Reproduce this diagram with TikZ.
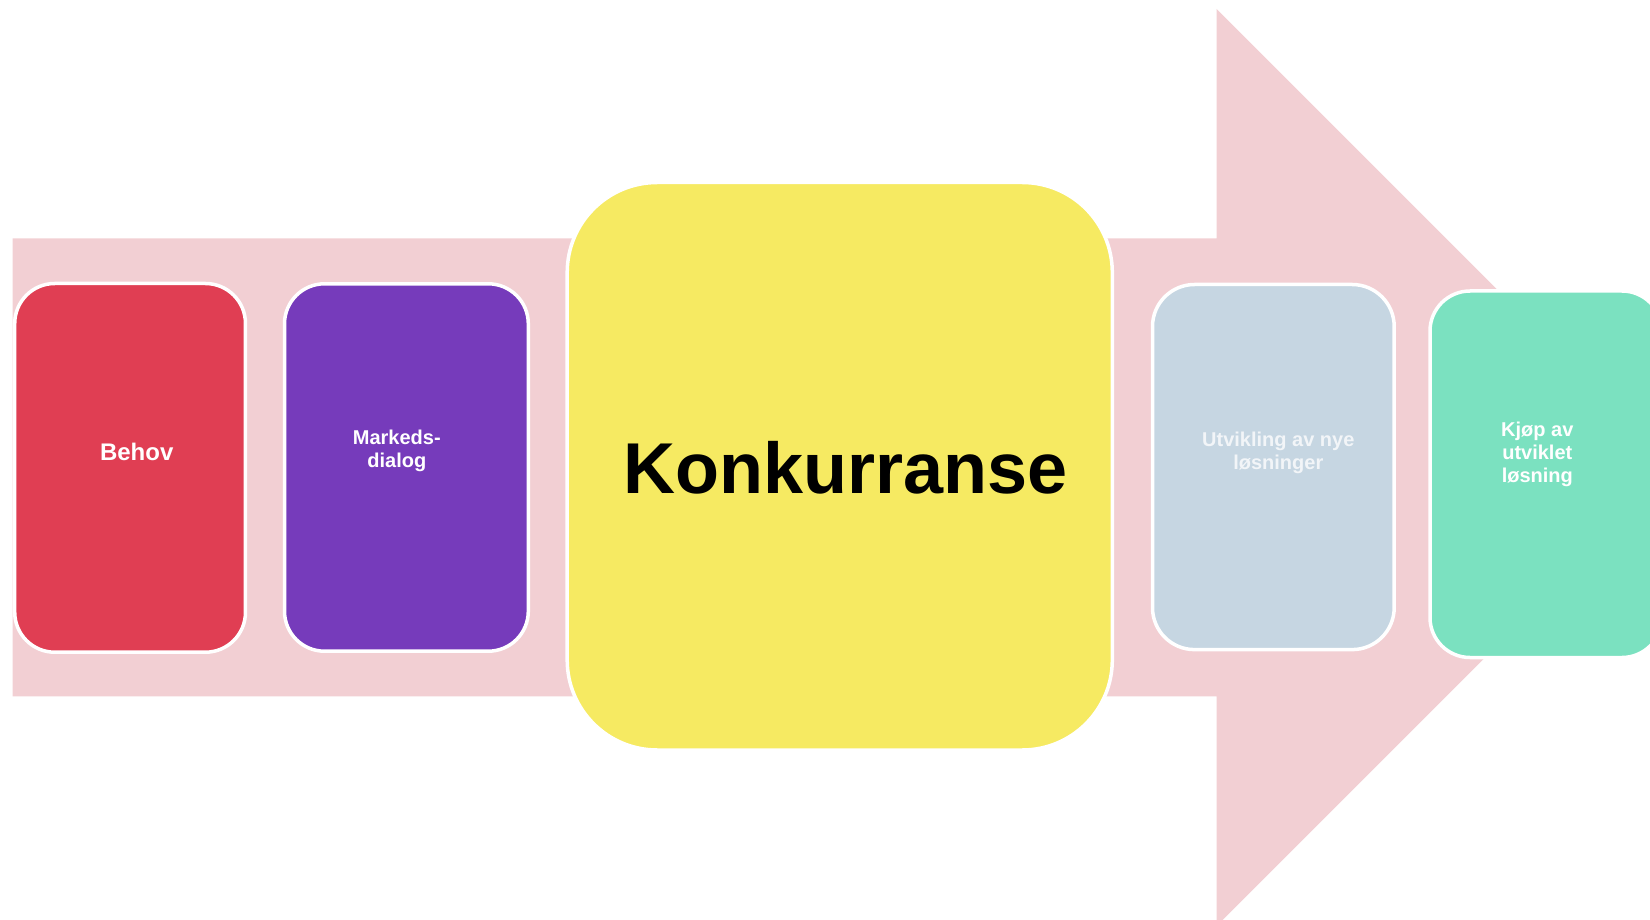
\documentclass[tikz,border=0pt]{standalone}
\usepackage{fontspec}
\setmainfont{Liberation Sans}
\definecolor{arrowpink}{HTML}{F2CFD3}
\definecolor{boxred}{HTML}{E03E53}
\definecolor{boxpurple}{HTML}{763BBB}
\definecolor{boxyellow}{HTML}{F6EA62}
\definecolor{boxblue}{HTML}{C6D6E2}
\definecolor{boxgreen}{HTML}{7BE1C0}
\definecolor{bluetext}{HTML}{F2F5F8}
\begin{document}
\begin{tikzpicture}[x=1pt,y=-1pt,
  card/.style={draw=white, line width=3.5pt, inner sep=0pt, outer sep=0pt},
  lbl/.style={text=white, font=\bfseries\fontsize{20}{23}\selectfont, anchor=base, inner sep=0pt}]
\useasboundingbox (0,0) rectangle (1650,920);
\clip (0,0) rectangle (1650,920);
% big arrow
\fill[arrowpink] (12.7,238.3) -- (1216.7,238.3) -- (1216.7,9) -- (1675.2,467.5)
  -- (1216.7,926) -- (1216.7,696.3) -- (12.7,696.3) -- cycle;
% cards
\node[card, fill=boxred, rounded corners=40pt, minimum width=230.75pt, minimum height=368.7pt] (behov) at (130.1,467.85) {};
\node[card, fill=boxpurple, rounded corners=40pt, minimum width=243.8pt, minimum height=367.4pt] (dialog) at (406.4,467.5) {};
\node[card, fill=boxyellow, rounded corners=90pt, minimum width=545.1pt, minimum height=567.5pt] (konk) at (839.75,466.25) {};
\node[card, fill=boxblue, rounded corners=42pt, minimum width=241.7pt, minimum height=365.1pt] (utv) at (1273.35,467.05) {};
\node[card, fill=boxgreen, rounded corners=40pt, minimum width=232pt, minimum height=366.5pt] (kjop) at (1546,474.25) {};
% labels
\node[lbl, font=\bfseries\fontsize{24}{28}\selectfont] (t1) at (136.7,460) {Behov};
\node[lbl] (t2a) at (396.8,444) {Markeds-};
\node[lbl] (t2b) at (396.8,467.3) {dialog};
\node[lbl, text=black, font=\bfseries\fontsize{72}{80}\selectfont] (t3) at (845.5,493.4) {Konkurranse};
\node[lbl, text=bluetext] (t4a) at (1278.3,446) {Utvikling av nye};
\node[lbl, text=bluetext] (t4b) at (1278.3,469.3) {løsninger};
\node[lbl] (t5a) at (1537.3,436) {Kjøp av};
\node[lbl] (t5b) at (1537.3,459.3) {utviklet};
\node[lbl] (t5c) at (1537.3,482.6) {løsning};
\end{tikzpicture}
\end{document}
